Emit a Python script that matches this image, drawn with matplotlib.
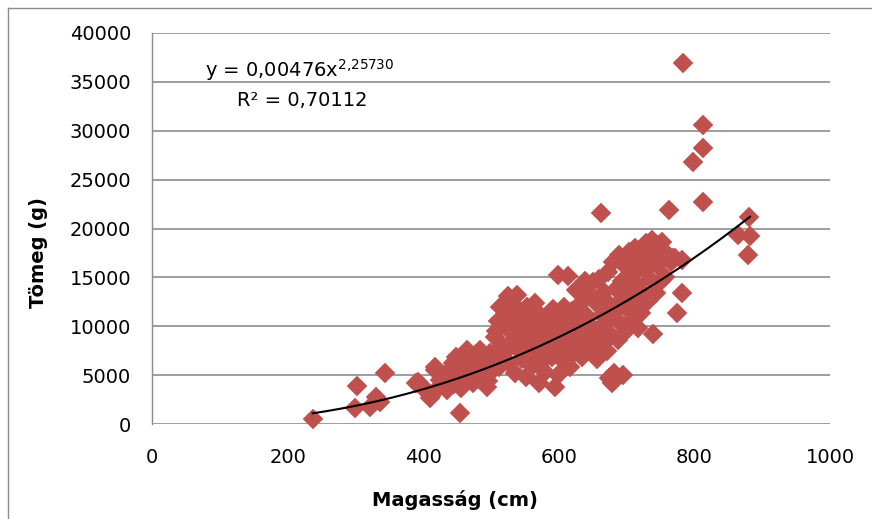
import numpy as np
import matplotlib
matplotlib.use("Agg")
import matplotlib.pyplot as plt
from matplotlib.lines import Line2D

plt.rcParams['font.family'] = ['DejaVu Sans']
plt.rcParams['mathtext.fontset'] = 'custom'
plt.rcParams['mathtext.rm'] = 'DejaVu Sans'

# Height (cm) of each tree
magassag = [
    237, 299, 302, 322, 331, 336, 344,
    390, 393, 398, 405, 410, 412, 417, 417, 420, 425, 428, 430, 435, 438,
    440, 444, 446, 449, 452, 454, 456, 458, 462, 464, 464, 466, 468, 470,
    473, 476, 478, 480, 484, 486, 488, 490, 492, 494, 496, 498, 500,
    503, 506, 508, 510, 512, 514, 516, 518, 520, 522, 523, 525, 527, 529,
    531, 533, 535, 537, 538, 540, 542, 544, 546, 548, 550, 552, 553, 555,
    557, 559, 561, 563, 565, 567, 569, 571, 572, 574, 576, 578, 580, 582,
    584, 586, 599, 590, 592, 594, 595, 597, 599, 600,
    614, 604, 606, 608, 610, 612, 614, 616, 618, 620, 622, 624, 626, 628,
    630, 632, 634, 636, 638, 640, 642, 644, 646, 648, 650, 652, 654, 656,
    658, 660, 662, 663, 665, 667, 669, 671, 672, 674, 675, 677, 679, 680,
    681, 683, 685, 687, 689, 691, 693, 694, 695, 697, 699, 701, 703, 705,
    707, 709, 711, 713, 715, 717, 719, 721, 723, 725, 727, 729, 731, 733,
    735, 737, 739, 741, 743, 745, 748, 751, 752, 754, 757, 760, 763, 765,
    769, 772, 774, 781, 781, 783, 798, 812, 813, 813, 865, 879, 881, 882,
]

# Mass (g) of each tree
tomeg = [
    480, 1600, 3890, 1770, 2800, 2300, 5180,
    4160, 4330, 3900, 3300, 2630, 2900, 5520, 5860, 3600, 4500, 4000, 5000, 3480, 4700,
    5400, 6240, 4100, 6880, 5700, 1090, 3700, 4900, 5300, 6210, 7570, 6600, 4500, 5800,
    4190, 7100, 5100, 6300, 7570, 4700, 5500, 6900, 6100, 3820, 4400, 7300, 5300,
    6500, 8930, 9500, 10500, 5800, 12000, 8000, 7200, 11200, 9900, 7570, 13100, 6200, 10600,
    8500, 12300, 5200, 9300, 13200, 7700, 11200, 10300, 6600, 8800, 9700, 4800, 12000, 7300,
    10800, 8200, 5900, 9300, 12400, 7000, 10500, 4160, 8600, 11000, 6400, 9700, 5300, 7800,
    10200, 8900, 15200, 6900, 11800, 3820, 9300, 7600, 5010, 10500,
    15100, 8200, 6400, 12000, 9600, 7200, 10900, 5800, 8800, 11600, 9900, 7400, 13700, 10500,
    8400, 12300, 6900, 9200, 14600, 11100, 8000, 7600, 13200, 10000, 14500, 8700, 12500, 6600,
    9600, 14800, 21600, 11200, 8200, 13500, 10400, 7500, 15600, 4700, 12200, 9100, 4200, 16600,
    5200, 11600, 13800, 8600, 17300, 10300, 14600, 5010, 12800, 16200, 9500, 11800, 17600, 13600,
    10500, 15300, 12400, 18000, 14200, 9800, 16700, 11400, 17400, 13300, 15800, 18500, 12600, 16500,
    14800, 18800, 9200, 17600, 13400, 16300, 18300, 14600, 18650, 17800, 15000, 17200, 21900, 16600,
    17000, 16950, 11320, 16780, 13370, 36900, 26830, 22740, 28200, 30590, 19330, 17290, 21200, 19230,
]

# Power trend fitted to the data: y = a * x^b
trend_a = 0.00476
trend_b = 2.25730
trend_r2 = 0.70112

x_ticks = [0, 200, 400, 600, 800, 1000]
y_ticks = [0, 5000, 10000, 15000, 20000, 25000, 30000, 35000, 40000]

W, H = 872, 519
fig = plt.figure(figsize=(W / 100, H / 100), dpi=100)
fig.patch.set_facecolor('white')


def fx(px):
    return px / W


def fy(py):
    return 1 - py / H


# chart-area frame (left and top edges)
fig.add_artist(Line2D([fx(7.5), fx(7.5)], [fy(7.5), 0], color='#8c8c8c', linewidth=1.0))
fig.add_artist(Line2D([fx(7.5), 1], [fy(7.5), fy(7.5)], color='#8c8c8c', linewidth=1.0))

ax = fig.add_axes([fx(152), fy(424), (830 - 152) / W, (424 - 33) / H])
ax.set_xlim(0, 1000)
ax.set_ylim(0, 40000)
ax.set_xticks(x_ticks)
ax.set_yticks(y_ticks)
ax.set_xticklabels([str(v) for v in x_ticks])
ax.set_yticklabels([str(v) for v in y_ticks])

for s in ['top', 'right', 'bottom']:
    ax.spines[s].set_visible(False)
ax.spines['left'].set_color('#8c8c8c')
ax.spines['left'].set_linewidth(1.0)

ax.yaxis.grid(True, color='#8c8c8c', linewidth=1.2)
ax.set_axisbelow(True)
ax.tick_params(axis='both', length=0, labelsize=14, colors='black')
ax.tick_params(axis='x', pad=17)
ax.tick_params(axis='y', pad=15)

ax.plot(magassag, tomeg, linestyle='none', marker='D', markersize=10,
        markerfacecolor='#C0504D', markeredgecolor='#C0504D',
        markeredgewidth=0.3, zorder=3, clip_on=False)

xt = np.linspace(min(magassag), max(magassag), 200)
ax.plot(xt, trend_a * xt ** trend_b, color='black', linewidth=1.5, zorder=4)

fig.text(fx(205), fy(77), r'y = 0,00476x$^{\mathregular{2{,}25730}}$',
         fontsize=14, va='baseline', ha='left')
fig.text(fx(237), fy(106), 'R² = 0,70112', fontsize=14,
         va='baseline', ha='left')

fig.text(fx(455), fy(500), 'Magasság (cm)', fontsize=14,
         fontweight='bold', ha='center', va='center')
fig.text(fx(38), fy(253), 'Tömeg (g)', fontsize=14,
         fontweight='bold', ha='center', va='center', rotation=90)

fig.savefig('out.png', dpi=100, facecolor='white')
